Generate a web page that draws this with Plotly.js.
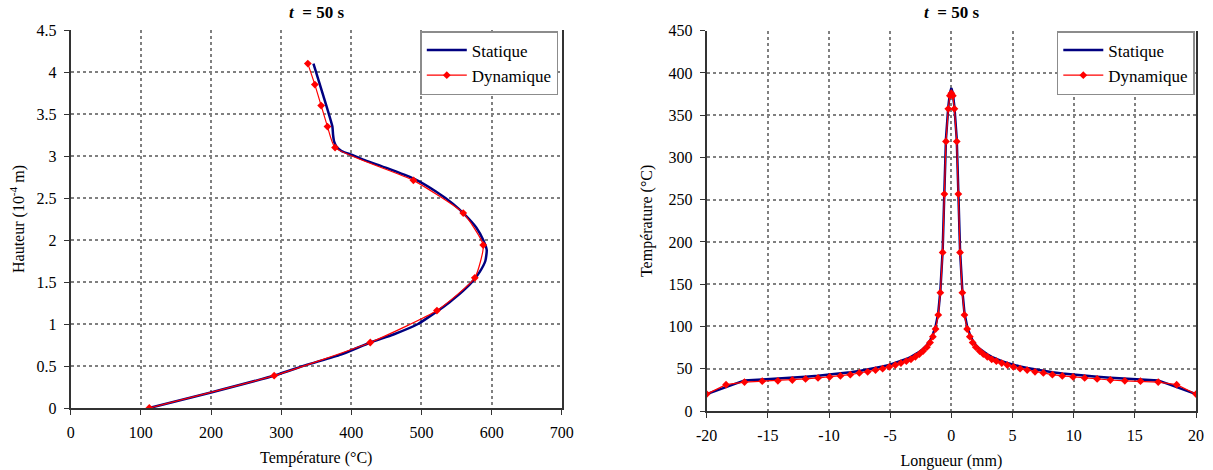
<!DOCTYPE html>
<html>
<head>
<meta charset="utf-8">
<script src="https://cdn.plot.ly/plotly-3.0.1.min.js"></script>
<style>
  html, body { margin: 0; padding: 0; background: #ffffff; }
  #chart { width: 1213px; height: 470px; }
</style>
</head>
<body>
<div id="chart"></div>
<script>
// ---------- Left chart: height vs temperature ----------
const leftStatT = [346, 360, 373, 374, 375.5, 379, 386, 400, 416, 451, 489, 520, 545, 562, 578, 588, 593, 591, 583, 574, 560, 540, 522, 495, 460, 427, 385, 335, 292, 200, 112];
const leftStatH = [4.10, 3.72, 3.35, 3.25, 3.17, 3.11, 3.06, 3.015, 2.96, 2.855, 2.73, 2.58, 2.43, 2.30, 2.15, 2.00, 1.88, 1.75, 1.62, 1.52, 1.40, 1.26, 1.15, 1.00, 0.875, 0.78, 0.635, 0.51, 0.39, 0.185, 0.00];

const leftDynT = [338, 348, 357, 366, 376.8, 488.5, 559.5, 588, 576, 522, 427, 290, 112];
const leftDynH = [4.10, 3.85, 3.60, 3.35, 3.10, 2.71, 2.32, 1.94, 1.55, 1.16, 0.78, 0.385, 0.00];

// ---------- Right chart: temperature vs length ----------
const rightStatX = [-20, -16.91, -15.46, -14.18, -13.0, -11.92, -10.9, -9.95, -9.07, -8.26, -7.52, -6.84, -6.2, -5.62, -5.08, -4.58, -4.12, -3.68, -3.3, -2.94, -2.61, -2.31, -2.0, -1.74, -1.51, -1.29, -1.07, -0.9, -0.71, -0.57, -0.44, -0.25, -0.12, 0,
                    0.12, 0.25, 0.44, 0.57, 0.71, 0.9, 1.07, 1.29, 1.51, 1.74, 2.0, 2.31, 2.61, 2.94, 3.3, 3.68, 4.12, 4.58, 5.08, 5.62, 6.2, 6.84, 7.52, 8.26, 9.07, 9.95, 10.9, 11.92, 13.0, 14.18, 15.46, 16.91, 20];
const rightStatT = [20, 36.2, 37.4, 38.3, 39.4, 40.6, 41.8, 43.0, 44.3, 45.8, 47.4, 49.0, 50.8, 52.6, 54.6, 56.8, 59.0, 61.5, 64.0, 67.0, 70.0, 73.5, 78.0, 83.5, 90.5, 100, 116, 142, 190, 260, 322, 360, 376, 382,
                    376, 360, 322, 260, 190, 142, 116, 100, 90.5, 83.5, 78.0, 73.5, 70.0, 67.0, 64.0, 61.5, 59.0, 56.8, 54.6, 52.6, 50.8, 49.0, 47.4, 45.8, 44.3, 43.0, 41.8, 40.6, 39.4, 38.3, 37.4, 36.2, 20];

const rightDynX = [-20, -18.42, -16.91, -15.46, -14.18, -13.0, -11.92, -10.9, -9.95, -9.07, -8.26, -7.52, -6.84, -6.2, -5.62, -5.08, -4.58, -4.12, -3.68, -3.3, -2.94, -2.61, -2.31, -2.0, -1.74, -1.51, -1.29, -1.07, -0.9, -0.71, -0.57, -0.44, -0.25, -0.12, 0,
                   0.12, 0.25, 0.44, 0.57, 0.71, 0.9, 1.07, 1.29, 1.51, 1.74, 2.0, 2.31, 2.61, 2.94, 3.3, 3.68, 4.12, 4.58, 5.08, 5.62, 6.2, 6.84, 7.52, 8.26, 9.07, 9.95, 10.9, 11.92, 13.0, 14.18, 15.46, 16.91, 18.42, 20];
const rightDynT = [20, 31.2, 34.2, 35.3, 35.7, 36.7, 37.9, 39.1, 40.3, 41.5, 43.0, 45.0, 46.4, 48.4, 50.1, 52.1, 54.3, 56.7, 59.0, 61.2, 64.2, 67.3, 71.0, 75.5, 81.0, 88.0, 97.0, 113.7, 140, 187.6, 256.7, 319, 357.5, 373, 376,
                   373, 357.5, 319, 256.7, 187.6, 140, 113.7, 97.0, 88.0, 81.0, 75.5, 71.0, 67.3, 64.2, 61.2, 59.0, 56.7, 54.3, 52.1, 50.1, 48.4, 46.4, 45.0, 43.0, 41.5, 40.3, 39.1, 37.9, 36.7, 35.7, 35.3, 34.2, 31.2, 20];

// tick labels
const leftXTicks = [0, 100, 200, 300, 400, 500, 600, 700];
const leftYTicks = [0, 0.5, 1, 1.5, 2, 2.5, 3, 3.5, 4, 4.5];
const leftYLabels = ['0', '0.5', '1', '1.5', '2', '2.5', '3', '3.5', '4', '4.5'];
const rightXTicks = [-20, -15, -10, -5, 0, 5, 10, 15, 20];
const rightXLabels = ['-20', '-15', '-10', '-5', '0', '5', '10', '15', '20'];
const rightYTicks = [0, 50, 100, 150, 200, 250, 300, 350, 400, 450];

const FONT = 'Liberation Serif, Times New Roman, serif';
const NAVY = '#000080';
const RED = '#ff0000';
const GRID = '#808080';
const AXIS = '#333333';

const traces = [
  { x: leftStatT, y: leftStatH, xaxis: 'x', yaxis: 'y', type: 'scatter', mode: 'lines',
    name: 'Statique', line: { color: NAVY, width: 2.5, shape: 'spline', smoothing: 0.5 }, legend: 'legend' },
  { x: leftDynT, y: leftDynH, xaxis: 'x', yaxis: 'y', type: 'scatter', mode: 'lines+markers',
    name: 'Dynamique', line: { color: RED, width: 1.2, shape: 'spline', smoothing: 0.5 },
    marker: { color: RED, size: 6, symbol: 'diamond' }, legend: 'legend' },
  { x: rightStatX, y: rightStatT, xaxis: 'x2', yaxis: 'y2', type: 'scatter', mode: 'lines',
    name: 'Statique', line: { color: NAVY, width: 2.5 }, legend: 'legend2' },
  { x: rightDynX, y: rightDynT, xaxis: 'x2', yaxis: 'y2', type: 'scatter', mode: 'lines+markers',
    name: 'Dynamique', line: { color: RED, width: 1.2 },
    marker: { color: RED, size: 6, symbol: 'diamond' }, legend: 'legend2' }
];

function axisBase() {
  return {
    showgrid: true, gridcolor: GRID, gridwidth: 2, griddash: 'dot',
    showline: true, linecolor: AXIS, linewidth: 2,
    ticks: 'outside', ticklen: 5, tickwidth: 1, tickcolor: AXIS, ticklabelstandoff: 4,
    zeroline: false, tickfont: { family: FONT, size: 16, color: '#000' },
    fixedrange: true
  };
}

const legendBase = {
  font: { family: FONT, size: 17, color: '#000' },
  bgcolor: '#ffffff', bordercolor: '#8c8c8c', borderwidth: 1.5,
  xanchor: 'right', yanchor: 'top', tracegroupgap: 0, itemwidth: 40
};

const layout = {
  width: 1213, height: 470,
  margin: { l: 0, r: 0, t: 0, b: 0 },
  paper_bgcolor: '#ffffff', plot_bgcolor: '#ffffff',
  font: { family: FONT, color: '#000' },
  showlegend: true,
  xaxis: Object.assign(axisBase(), {
    domain: [70.7 / 1213, 561.8 / 1213], range: [0, 700], tickvals: leftXTicks, anchor: 'y',
    title: { text: 'Température (°C)', font: { family: FONT, size: 16, color: '#000' }, standoff: 12 }
  }),
  yaxis: Object.assign(axisBase(), {
    domain: [1 - 408 / 470, 1 - 30 / 470], range: [0, 4.5], tickvals: leftYTicks, ticktext: leftYLabels,
    anchor: 'x', mirror: true,
    title: { text: 'Hauteur (10<sup>-4</sup> m)', font: { family: FONT, size: 16, color: '#000' }, standoff: 8 }
  }),
  xaxis2: Object.assign(axisBase(), {
    domain: [706.7 / 1213, 1196 / 1213], range: [-20, 20], tickvals: rightXTicks, ticktext: rightXLabels, anchor: 'y2',
    title: { text: 'Longueur (mm)', font: { family: FONT, size: 16, color: '#000' }, standoff: 12 }
  }),
  yaxis2: Object.assign(axisBase(), {
    domain: [1 - 411 / 470, 1 - 30.7 / 470], range: [0, 450], tickvals: rightYTicks,
    anchor: 'x2', mirror: true,
    title: { text: 'Température (°C)', font: { family: FONT, size: 16, color: '#000' }, standoff: 12 }
  }),
  legend: Object.assign({}, legendBase, { x: 558.3 / 1213, y: 1 - 31 / 470 }),
  legend2: Object.assign({}, legendBase, { x: 1194.8 / 1213, y: 1 - 31 / 470 }),
  annotations: [
    { text: '<b><i>t</i>  = 50 s</b>', xref: 'paper', yref: 'paper', x: 316 / 1213, y: 1 - 13 / 470,
      xanchor: 'center', yanchor: 'middle', showarrow: false, font: { family: FONT, size: 17, color: '#000' } },
    { text: '<b><i>t</i>  = 50 s</b>', xref: 'paper', yref: 'paper', x: 951 / 1213, y: 1 - 13 / 470,
      xanchor: 'center', yanchor: 'middle', showarrow: false, font: { family: FONT, size: 17, color: '#000' } }
  ]
};

Plotly.newPlot('chart', traces, layout, { displayModeBar: false, staticPlot: true });
</script>
</body>
</html>
